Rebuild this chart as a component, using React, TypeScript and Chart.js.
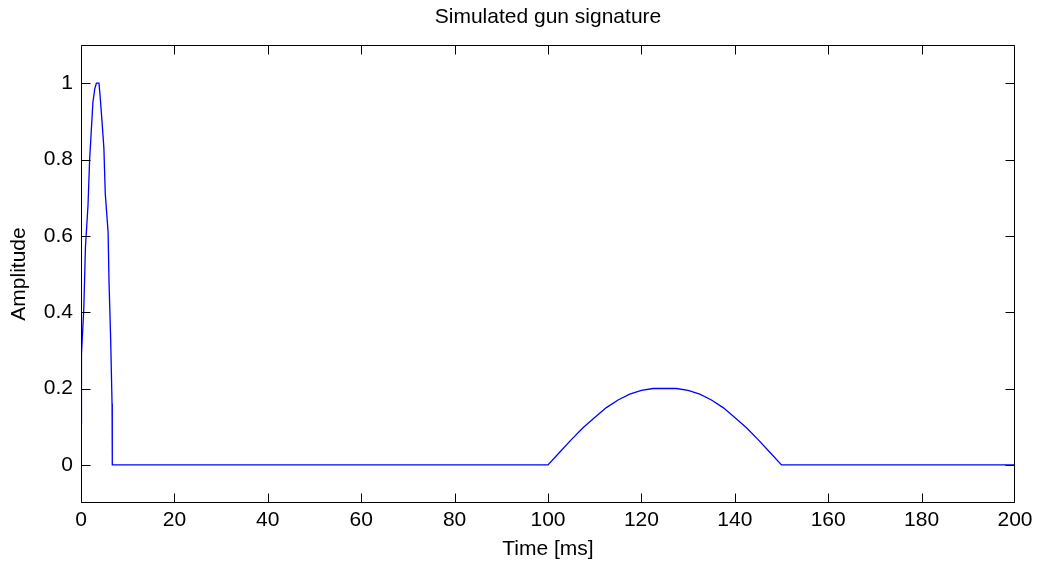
import React, { useEffect, useRef } from "react";
import { Chart, registerables } from "chart.js";

Chart.register(...registerables);

const TITLE = "Simulated gun signature";
const X_LABEL = "Time [ms]";
const Y_LABEL = "Amplitude";

const TIME_MS = [
  0, 0.1, 0.6, 0.95, 1.5, 1.85, 2.2, 2.55, 2.95, 3.3, 3.85, 4.1, 4.5, 4.9, 5.2, 5.8, 6.0, 6.35, 6.65, 6.7,
  100, 102.5, 105, 107.5, 110, 112.5, 115, 117.5, 120, 122.5, 125, 127.5, 130, 132.5, 135, 137.5, 140, 142.5,
  145, 147.5, 150, 200,
];
const AMPLITUDE = [
  0.11, 0.29, 0.41, 0.57, 0.68, 0.8, 0.875, 0.95, 0.985, 1.0, 1.0, 0.965, 0.9, 0.83, 0.71, 0.61, 0.48, 0.33, 0.16, 0,
  0, 0.033, 0.066, 0.097, 0.124, 0.15, 0.17, 0.185, 0.195, 0.2, 0.2, 0.2, 0.195, 0.185, 0.17, 0.15, 0.124, 0.097,
  0.066, 0.033, 0, 0,
];

const X_TICKS = [0, 20, 40, 60, 80, 100, 120, 140, 160, 180, 200];
const Y_TICKS = [0, 0.2, 0.4, 0.6, 0.8, 1];
const X_MIN = 0;
const X_MAX = 200;
const Y_MIN = -0.1;
const Y_MAX = 1.1;

const FONT_FAMILY = '"Liberation Sans", Arial, Helvetica, sans-serif';
const FONT_SIZE = 21;
const TICK_LEN = 9;

const boxAndTicks = {
  id: "boxAndTicks",
  afterDatasetsDraw(chart: any) {
    const { ctx, chartArea: a, scales } = chart;
    const l = Math.floor(a.left) + 0.5;
    const r = Math.floor(a.right) - 0.5;
    const t = Math.floor(a.top) + 0.5;
    const b = Math.floor(a.bottom) - 0.5;
    ctx.save();
    ctx.strokeStyle = "#000000";
    ctx.lineWidth = 1;
    ctx.beginPath();
    ctx.rect(l, t, r - l, b - t);
    for (const v of X_TICKS) {
      let x = Math.round(scales.x.getPixelForValue(v)) + 0.5;
      x = Math.min(Math.max(x, l), r);
      ctx.moveTo(x, b);
      ctx.lineTo(x, b - TICK_LEN);
      ctx.moveTo(x, t);
      ctx.lineTo(x, t + TICK_LEN);
    }
    for (const v of Y_TICKS) {
      let y = Math.round(scales.y.getPixelForValue(v)) + 0.5;
      y = Math.min(Math.max(y, t), b);
      ctx.moveTo(l, y);
      ctx.lineTo(l + TICK_LEN, y);
      ctx.moveTo(r, y);
      ctx.lineTo(r - TICK_LEN, y);
    }
    ctx.stroke();
    ctx.restore();
  },
};

export default function App() {
  const canvasRef = useRef<HTMLCanvasElement | null>(null);

  useEffect(() => {
    if (!canvasRef.current) return;
    const points = TIME_MS.map((x, i) => ({ x, y: AMPLITUDE[i] }));
    const font = { family: FONT_FAMILY, size: FONT_SIZE, weight: "normal" as const };
    const chart = new Chart(canvasRef.current, {
      type: "scatter",
      data: {
        datasets: [
          {
            data: points,
            showLine: true,
            borderColor: "#0000ff",
            backgroundColor: "#0000ff",
            borderWidth: 1.3,
            pointRadius: 0,
            tension: 0,
          },
        ],
      },
      options: {
        animation: false,
        responsive: true,
        maintainAspectRatio: false,
        layout: { padding: { left: 0, right: 23, top: 0, bottom: 0 } },
        plugins: {
          legend: { display: false },
          tooltip: { enabled: false },
          title: {
            display: true,
            fullSize: false,
            text: TITLE,
            color: "#000000",
            font,
            padding: { top: 4.5, bottom: 15.3 },
          },
        },
        scales: {
          x: {
            type: "linear",
            min: X_MIN,
            max: X_MAX,
            grid: { display: false, drawTicks: false },
            border: { display: false },
            afterBuildTicks: (s: any) => {
              s.ticks = X_TICKS.map((value) => ({ value }));
            },
            afterFit: (s: any) => {
              s.height = 65;
            },
            ticks: {
              color: "#000000",
              font,
              padding: 5,
              maxRotation: 0,
              autoSkip: false,
              callback: (v: any) => String(v),
            },
            title: {
              display: true,
              text: X_LABEL,
              color: "#000000",
              font,
              padding: { top: 0, bottom: 6.4 },
            },
          },
          y: {
            type: "linear",
            min: Y_MIN,
            max: Y_MAX,
            grid: { display: false, drawTicks: false },
            border: { display: false },
            afterBuildTicks: (s: any) => {
              s.ticks = Y_TICKS.map((value) => ({ value }));
            },
            afterFit: (s: any) => {
              s.width = 81;
            },
            ticks: {
              color: "#000000",
              font,
              padding: 8,
              autoSkip: false,
              callback: (v: any) => String(v),
            },
            title: {
              display: true,
              text: Y_LABEL,
              color: "#000000",
              font,
              padding: { top: 6.9, bottom: 0 },
            },
          },
        },
      },
      plugins: [boxAndTicks],
    });
    return () => chart.destroy();
  }, []);

  return (
    <div style={{ position: "fixed", left: 0, top: 0, width: 1038, height: 568, background: "#ffffff" }}>
      <canvas ref={canvasRef} />
    </div>
  );
}
